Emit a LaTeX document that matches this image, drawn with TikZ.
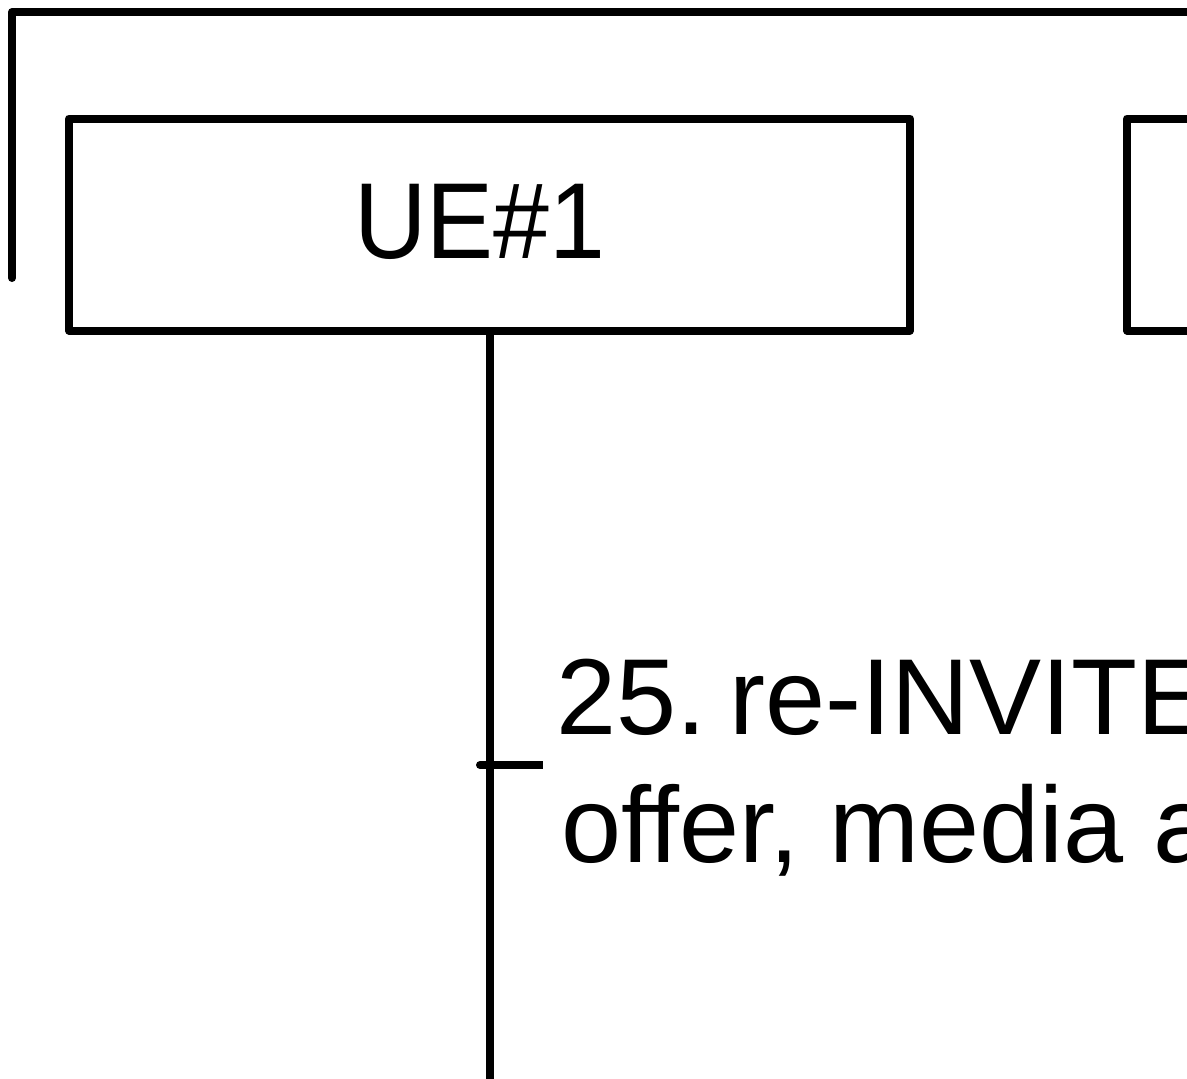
\documentclass[tikz,border=0pt]{standalone}
\usepackage{fontspec}
\setmainfont{Liberation Sans}
\newfontfamily\uefont{Liberation Sans}[FakeStretch=0.93]
\begin{document}
\begin{tikzpicture}[x=1pt,y=-1pt,
  ln/.style={line width=8pt,line cap=round,line join=round,black},
  entity/.style={draw,ln,minimum width=841pt,minimum height=212pt,inner sep=0pt},
  msg/.style={anchor=base west,inner sep=0pt,font=\fontsize{108}{128}\selectfont}]
\useasboundingbox (0,0) rectangle (1187,1079);
\clip (0,0) rectangle (1187,1079);
\coordinate (frTR) at (1200,12);
\coordinate (frTL) at (12,12);
\coordinate (frBL) at (12,278);
\draw[ln] (frTR) -- (frTL) -- (frBL);
\node[entity] (ue) at (489.5,224.5) {};
\node[anchor=base,inner sep=0pt,font=\uefont\fontsize{108}{128}\selectfont] (uelabel) at (480,258) {UE\#1};
\node[entity] (ue2) at (1547.5,224.5) {};
\coordinate (lifeEnd) at (489.5,1100);
\draw[ln] (ue.south) -- (lifeEnd);
\coordinate (tickL) at (480,765);
\coordinate (tickR) at (543,765);
\draw[ln,line cap=butt] (tickL) -- (tickR);
\fill (tickL) circle (4pt);
\node[msg] (m1) at (556,734) {25.\kern23pt re-INVITE (SDP};
\node[msg] (m2) at (561,862) {offer, media attributes)};
\end{tikzpicture}
\end{document}
